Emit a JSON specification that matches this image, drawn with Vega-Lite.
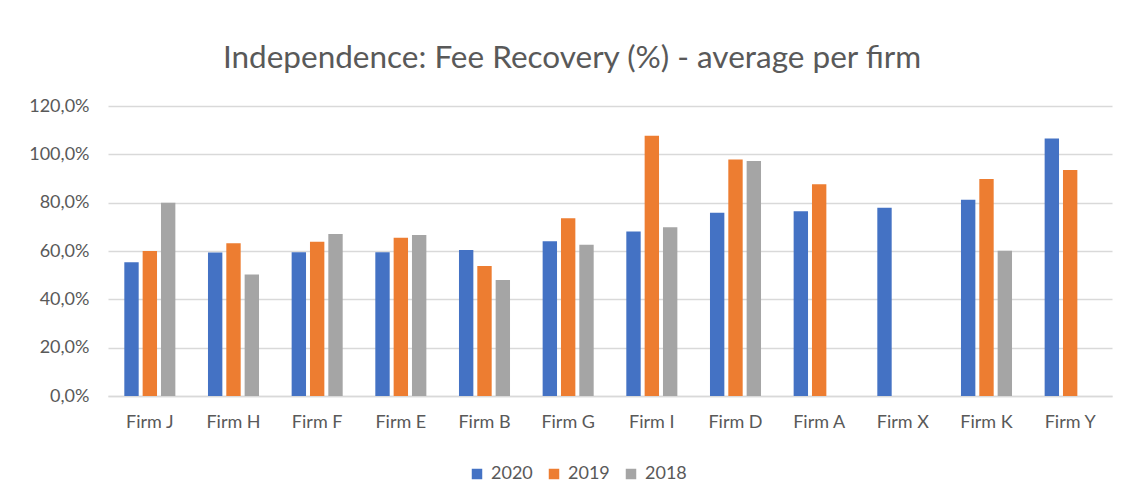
{
  "$schema": "https://vega.github.io/schema/vega-lite/v6.json",
  "width": 1004,
  "height": 290,
  "autosize": "none",
  "padding": {"left": 108, "top": 106, "right": 15, "bottom": 103},
  "background": "white",
  "title": {
    "text": "Independence: Fee Recovery (%) - average per firm",
    "font": "Lato",
    "fontSize": 31.5,
    "fontWeight": "normal",
    "color": "#595959",
    "anchor": "middle",
    "frame": "group",
    "dx": -38,
    "offset": 23
  },
  "data": {
    "values": [
      {"firm": "Firm J", "year": "2020", "value": 55.3},
      {"firm": "Firm J", "year": "2019", "value": 60.0},
      {"firm": "Firm J", "year": "2018", "value": 80.0},
      {"firm": "Firm H", "year": "2020", "value": 59.4},
      {"firm": "Firm H", "year": "2019", "value": 63.2},
      {"firm": "Firm H", "year": "2018", "value": 50.3},
      {"firm": "Firm F", "year": "2020", "value": 59.5},
      {"firm": "Firm F", "year": "2019", "value": 63.8},
      {"firm": "Firm F", "year": "2018", "value": 67.0},
      {"firm": "Firm E", "year": "2020", "value": 59.5},
      {"firm": "Firm E", "year": "2019", "value": 65.5},
      {"firm": "Firm E", "year": "2018", "value": 66.6},
      {"firm": "Firm B", "year": "2020", "value": 60.4},
      {"firm": "Firm B", "year": "2019", "value": 53.8},
      {"firm": "Firm B", "year": "2018", "value": 48.0},
      {"firm": "Firm G", "year": "2020", "value": 64.0},
      {"firm": "Firm G", "year": "2019", "value": 73.6},
      {"firm": "Firm G", "year": "2018", "value": 62.6},
      {"firm": "Firm I", "year": "2020", "value": 68.1},
      {"firm": "Firm I", "year": "2019", "value": 107.7},
      {"firm": "Firm I", "year": "2018", "value": 69.8},
      {"firm": "Firm D", "year": "2020", "value": 75.8},
      {"firm": "Firm D", "year": "2019", "value": 97.9},
      {"firm": "Firm D", "year": "2018", "value": 97.2},
      {"firm": "Firm A", "year": "2020", "value": 76.5},
      {"firm": "Firm A", "year": "2019", "value": 87.6},
      {"firm": "Firm X", "year": "2020", "value": 77.9},
      {"firm": "Firm K", "year": "2020", "value": 81.2},
      {"firm": "Firm K", "year": "2019", "value": 89.8},
      {"firm": "Firm K", "year": "2018", "value": 60.1},
      {"firm": "Firm Y", "year": "2020", "value": 106.6},
      {"firm": "Firm Y", "year": "2019", "value": 93.5}
    ]
  },
  "mark": {"type": "bar"},
  "encoding": {
    "x": {
      "field": "firm",
      "type": "nominal",
      "sort": ["Firm J", "Firm H", "Firm F", "Firm E", "Firm B", "Firm G", "Firm I", "Firm D", "Firm A", "Firm X", "Firm K", "Firm Y"],
      "scale": {"paddingInner": 0.39, "paddingOuter": 0.195},
      "axis": {
        "title": null,
        "labelAngle": 0,
        "labelFont": "Lato",
        "labelFontSize": 18,
        "labelColor": "#595959",
        "labelPadding": 17,
        "ticks": false,
        "domainColor": "#d9d9d9",
        "domainWidth": 1.5
      }
    },
    "xOffset": {
      "field": "year",
      "type": "nominal",
      "sort": ["2020", "2019", "2018"],
      "scale": {"domain": ["2020", "2019", "2018"], "paddingInner": 0.216, "paddingOuter": 0}
    },
    "y": {
      "field": "value",
      "type": "quantitative",
      "scale": {"domain": [0, 120], "nice": false},
      "axis": {
        "title": null,
        "values": [0, 20, 40, 60, 80, 100, 120],
        "labelExpr": "replace(format(datum.value, '.1f'), '.', ',') + '%'",
        "labelFont": "Lato",
        "labelFontSize": 18,
        "labelColor": "#595959",
        "labelPadding": 19,
        "ticks": false,
        "domain": false,
        "gridColor": "#d9d9d9",
        "gridWidth": 1.5
      }
    },
    "color": {
      "field": "year",
      "type": "nominal",
      "scale": {"domain": ["2020", "2019", "2018"], "range": ["#4472C4", "#ED7D31", "#A5A5A5"]},
      "legend": {
        "title": null,
        "orient": "none",
        "direction": "horizontal",
        "legendX": 360,
        "legendY": 359,
        "symbolType": "square",
        "symbolSize": 110,
        "symbolStrokeWidth": 0,
        "labelFont": "Lato",
        "labelFontSize": 18,
        "labelColor": "#595959",
        "columnPadding": 12,
        "labelOffset": 5
      }
    }
  },
  "config": {"view": {"stroke": null}}
}
